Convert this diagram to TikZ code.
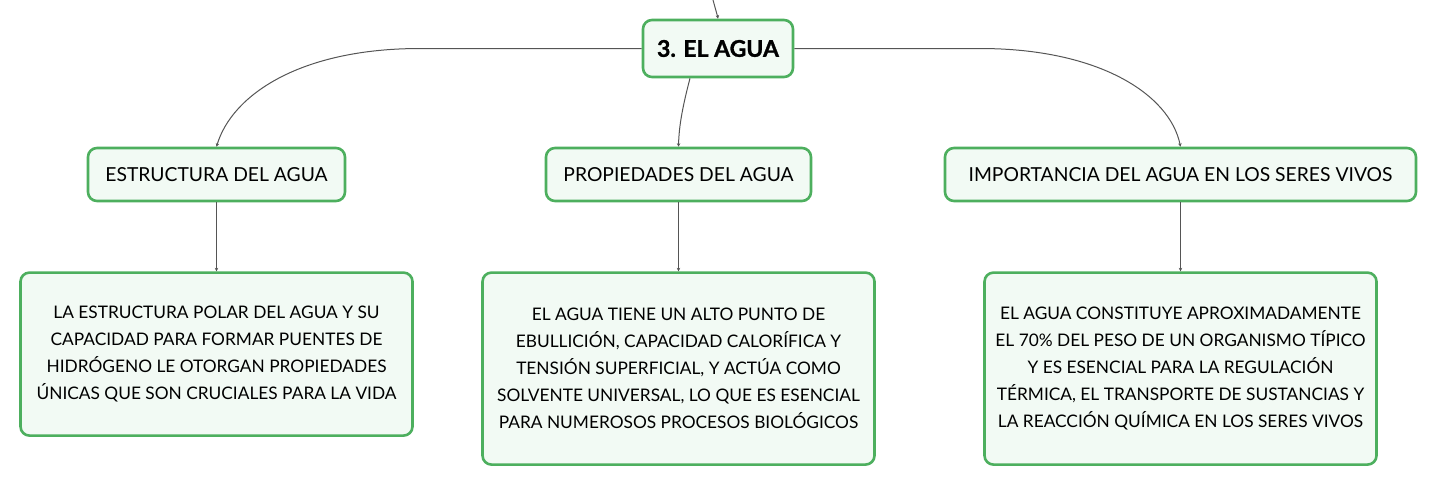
\documentclass[tikz,border=0pt]{standalone}
\usepackage{fontspec}
\setmainfont{Lato}
\newfontfamily\heavyfont{Lato}[FakeBold=1.2]
\usetikzlibrary{positioning,arrows.meta}
\definecolor{boxgreen}{HTML}{4DAF5E}
\definecolor{boxfill}{HTML}{F2FAF4}
\definecolor{linkgray}{HTML}{555555}

\begin{document}
\begin{tikzpicture}[x=1pt,y=-1pt,
  box/.style={draw=boxgreen,fill=boxfill,line width=2.6pt,rounded corners=9pt,
    align=center,inner sep=0pt},
  topic/.style={box,minimum height=53pt,font=\fontsize{19.3}{22}\selectfont},
  leaf/.style={box,minimum width=392pt,font=\fontsize{17.3}{27}\selectfont},
  link/.style={draw=linkgray,line width=1pt,-{Stealth[length=3.5pt,width=3.5pt]}},
  node distance=69pt]
\useasboundingbox (0,0) rectangle (1436,483);
\node[box,minimum width=150pt,minimum height=57pt,
  font=\fontsize{23}{26}\heavyfont\bfseries] (agua) at (718,48.5) {3. EL AGUA};
\node[topic,minimum width=257pt] (estructura) at (216.5,174.5) {ESTRUCTURA DEL AGUA};
\node[topic,minimum width=265pt] (propiedades) at (678.5,174.5) {PROPIEDADES DEL AGUA};
\node[topic,minimum width=471pt] (importancia) at (1180.5,174.5) {IMPORTANCIA DEL AGUA EN LOS SERES VIVOS};
\node[leaf,minimum height=163pt] (estructura-txt) [below=of estructura] {LA ESTRUCTURA POLAR DEL AGUA Y SU\\
  CAPACIDAD PARA FORMAR PUENTES DE\\
  HIDRÓGENO LE OTORGAN PROPIEDADES\\
  ÚNICAS QUE SON CRUCIALES PARA LA VIDA};
\node[leaf,minimum height=192pt] (propiedades-txt) [below=of propiedades] {EL AGUA TIENE UN ALTO PUNTO DE\\
  EBULLICIÓN, CAPACIDAD CALORÍFICA Y\\
  TENSIÓN SUPERFICIAL, Y ACTÚA COMO\\
  SOLVENTE UNIVERSAL, LO QUE ES ESENCIAL\\
  PARA NUMEROSOS PROCESOS BIOLÓGICOS};
\node[leaf,minimum height=192pt] (importancia-txt) [below=of importancia] {EL AGUA CONSTITUYE APROXIMADAMENTE\\
  EL 70\% DEL PESO DE UN ORGANISMO TÍPICO\\
  Y ES ESENCIAL PARA LA REGULACIÓN\\
  TÉRMICA, EL TRANSPORTE DE SUSTANCIAS Y\\
  LA REACCIÓN QUÍMICA EN LOS SERES VIVOS};
\coordinate (parent) at (713,0);
\draw[link] (parent) .. controls (716,8) .. (agua.north);
\draw[link] (agua.west) -- (420,48.5) .. controls (300,48.5) and (232,95) .. (estructura.north);
\draw[link] ([xshift=-28pt]agua.south) .. controls (683,105) and (679,125) .. (propiedades.north);
\draw[link] (agua.east) -- (980,48.5) .. controls (1100,48.5) and (1170,95) .. (importancia.north);
\draw[link] (estructura) -- (estructura-txt);
\draw[link] (propiedades) -- (propiedades-txt);
\draw[link] (importancia) -- (importancia-txt);
\end{tikzpicture}
\end{document}
